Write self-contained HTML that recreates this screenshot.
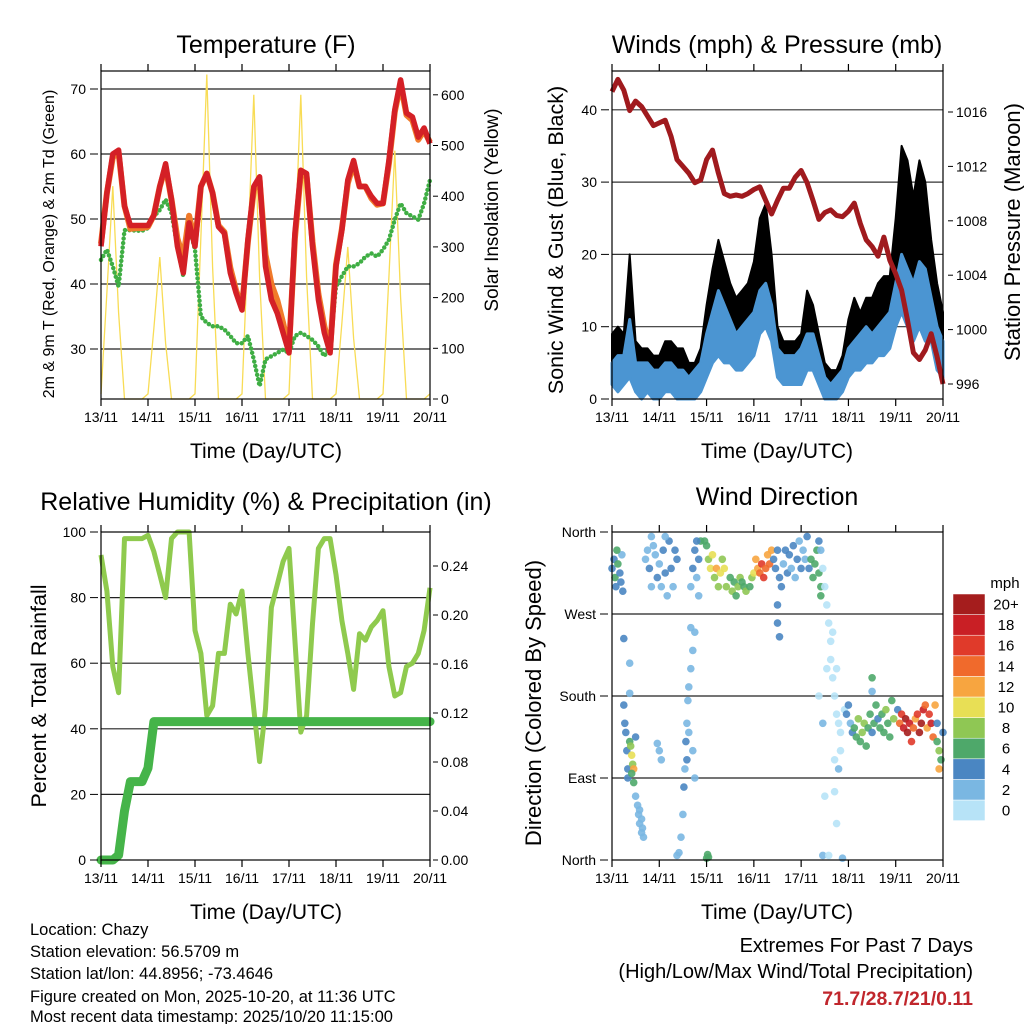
<!DOCTYPE html>
<html><head><meta charset="utf-8"><style>
html,body{margin:0;padding:0;background:#fff;}
svg{display:block;font-family:"Liberation Sans",sans-serif;}
</style></head><body>
<svg id="svg" width="1024" height="1024" viewBox="0 0 1024 1024" xmlns="http://www.w3.org/2000/svg">
<g id="grid"></g>
<g id="marks"></g>
<g id="frames"></g>
<g id="labels" font-size="14" fill="#000"></g>
<g id="text">
<text x="266" y="53" font-size="25" text-anchor="middle">Temperature (F)</text>
<text x="777" y="53" font-size="25" text-anchor="middle">Winds (mph) &amp; Pressure (mb)</text>
<text x="266" y="510" font-size="25" text-anchor="middle">Relative Humidity (%) &amp; Precipitation (in)</text>
<text x="777" y="505" font-size="25" text-anchor="middle">Wind Direction</text>
<text x="266" y="458" font-size="21" text-anchor="middle">Time (Day/UTC)</text>
<text x="777" y="458" font-size="21" text-anchor="middle">Time (Day/UTC)</text>
<text x="266" y="919" font-size="21" text-anchor="middle">Time (Day/UTC)</text>
<text x="777" y="919" font-size="21" text-anchor="middle">Time (Day/UTC)</text>
<text transform="translate(54,244) rotate(-90)" font-size="16" text-anchor="middle">2m &amp; 9m T (Red, Orange) &amp; 2m Td (Green)</text>
<text transform="translate(498,210) rotate(-90)" font-size="19" text-anchor="middle">Solar Insolation (Yellow)</text>
<text transform="translate(563,240) rotate(-90)" font-size="21.5" text-anchor="middle">Sonic Wind &amp; Gust (Blue, Black)</text>
<text transform="translate(1020,232) rotate(-90)" font-size="22" text-anchor="middle">Station Pressure (Maroon)</text>
<text transform="translate(46,696) rotate(-90)" font-size="21.5" text-anchor="middle">Percent &amp; Total Rainfall</text>
<text transform="translate(541,703) rotate(-90)" font-size="22" text-anchor="middle">Direction (Colored By Speed)</text>
<g font-size="16.5">
<text x="30" y="935">Location: Chazy</text>
<text x="30" y="957">Station elevation: 56.5709 m</text>
<text x="30" y="979">Station lat/lon: 44.8956; -73.4646</text>
<text x="30" y="1002">Figure created on Mon, 2025-10-20, at 11:36 UTC</text>
<text x="30" y="1022">Most recent data timestamp: 2025/10/20 11:15:00</text>
</g>
<g font-size="20" text-anchor="end">
<text x="973" y="952">Extremes For Past 7 Days</text>
<text x="973" y="978">(High/Low/Max Wind/Total Precipitation)</text>
<text x="973" y="1005" font-size="19.5" fill="#c0262c" font-weight="bold">71.7/28.7/21/0.11</text>
</g>
<text x="1005" y="588" font-size="15" text-anchor="middle">mph</text>
</g>
</svg>
<script>
// ---- data (3-hourly, hours since 13/11 00 UTC) ----
const dayLabels=["13/11","14/11","15/11","16/11","17/11","18/11","19/11","20/11"];
const temp2m=[45.8,54,60,60.6,52,49,49,49,49,50.6,55,58.5,53,45.8,41.7,49.4,45.8,55,57,54,48.8,47.8,41.7,38.6,36,46.8,55,56.5,42.7,37.6,35.5,32.5,29.4,47.8,57.5,57,45.8,37.6,32.5,29.4,42.7,48.3,56,59,55,55,53.5,52.4,52.4,59,66.8,71.4,66.3,65.7,62.6,64,61.6];
const temp9m=[46.2,54,59.5,60.2,52,48.5,48.6,48.6,48.8,50.6,55,58,53,47,44,50.5,46.5,55,57,54,49,48,42.5,39,36.5,46.5,54.5,56,44.5,40,37.5,34,30,47,57,56.5,46.5,38.5,33.5,30,43,48.5,55.5,58.5,55,55,53.2,52.2,52.4,58.5,66.5,70.8,66,65.2,62.2,63.6,61.8];
const dewpt=[43.7,45.3,42.7,39.6,48.3,48.3,48.2,48.2,48.6,50.4,51.4,53,50.9,45.8,41.2,48.8,45.3,35,34,33.5,33.5,33,32,30.9,30.9,32,28.4,24.3,28.4,28.9,29.4,29.9,29.4,32,32.5,32,31.4,30.4,28.9,30.4,39.6,41.2,42.7,42.7,43.2,44.2,44.7,44.2,45.3,46.8,49.9,52.4,50.9,50.4,49.9,52.4,56];
const solar=[10,210,420,170,0,0,0,0, 10,140,280,110,0,0,0,0, 10,320,640,260,0,0,0,0, 10,300,600,240,0,0,0,0, 10,300,600,240,0,0,0,0, 10,150,300,120,0,0,0,0, 10,240,490,200,0,0,0,0, 10];
const pressure=[1017.5,1018.4,1017.6,1016.1,1016.8,1016.4,1015.7,1015,1015.2,1015.4,1014.2,1012.5,1012,1011.5,1010.8,1011,1012.5,1013.2,1011.5,1010,1009.8,1009.9,1009.8,1010,1010.3,1010.5,1009.5,1008.5,1009.5,1010.4,1010.4,1011.2,1011.7,1010.8,1009.5,1008.1,1008.6,1008.8,1008.4,1008.3,1008.7,1009.3,1007.8,1006.6,1006.1,1005.4,1006.8,1005.1,1004.1,1002.9,1000.7,998.3,997.8,998.5,999.7,998,996];
const windMin=[2,1,2,3,1,0,1,0,0,1,1,0,0,0,0,1,3,5,6,5,5,4,4,5,6,9,10,8,3,2,2,2,2,4,4,2,0,0,0,1,3,4,4,5,5,6,6,7,10,12,10,8,10,8,8,4,3];
const windMax=[5,6,6,11,5,5,5,4,4,5,5,4,4,3,4,5,9,12,15,13,11,9,10,11,12,15,16,13,7,6,6,6,7,9,9,6,3,2,3,4,7,8,9,10,9,10,11,12,16,20,18,16,19,18,14,10,8];
const gust=[9,10,9,20,8,7,7,6,6,8,8,7,7,5,5,7,13,18,22,19,16,14,15,16,19,25,27,20,10,8,8,8,9,15,13,9,5,4,4,6,11,14,12,14,14,16,17,17,25,35,33,28,33,30,22,16,12];
const rh=[93,82,59,51,98,98,98,98,99,94,87,80,98,100,100,100,70,63,44,47,63,63,78,75,82,63,46,30,46,77,84,91,95,67,39,44,72,95,98,98,87,73,63,52,69,67,71,73,76,59,50,51,59,60,63,70,83];
const precip=[0,0,0,0.004,0.04,0.064,0.064,0.064,0.075,0.113,0.113,0.113,0.113,0.113,0.113,0.113,0.113,0.113,0.113,0.113,0.113,0.113,0.113,0.113,0.113,0.113,0.113,0.113,0.113,0.113,0.113,0.113,0.113,0.113,0.113,0.113,0.113,0.113,0.113,0.113,0.113,0.113,0.113,0.113,0.113,0.113,0.113,0.113,0.113,0.113,0.113,0.113,0.113,0.113,0.113,0.113,0.113];
// wind direction observations: hour, direction (deg), speed (mph)
const dirHour=[0,1,1.5,2,3,4,5,5.5,2.5,4.5,6,9,9,6,6.5,7,7.5,8,8,9,9.5,10,10.5,11,10,11,12,12,13,13.5,14,15,15.5,16,15,14,17,18,19,20,21,22,23,24,25,26,27,28,29,30,31,32,33,27,20,24,25,23,33,34,35,36,36.5,37,37.5,38,38.5,39,40,41,42,40,39,38,41,42,40,41,42,43,44,45,44,43,48,49,48.5,47,48,49,50,51,52,53,54,55,56,57,58,60,61,62,63,64,65,66,67,68,70,71,72,73,74,75,76,77,78,79,80,81,82,83,84,85,86,87,88,89,90,91,92,93,94,95,96,97,98,99,84,84,85,100,101,102,103,104,105,106,106,105,106,107,108,109,110,111,111,112,113,114,115,116,115,116,109,112,113,107,108,113,114,105,114,107,117,110,118,119,120,121,122,123,124,125,126,127,128,129,130,131,132,133,134,135,136,137,138,139,140,141,142,143,132,132,145,146,147,148,149,150,151,152,153,154,155,156,157,158,159,160,161,162,163,164,165,166,167,168,166,165];
const dirDeg=[320,330,310,300,325,315,335,295,340,305,243,216,183,170,150,140,120,100,90,130,125,115,105,100,95,85,135,70,60,50,40,30,35,25,45,55,330,340,320,300,345,335,310,325,300,340,315,290,350,320,300,340,330,355,355,120,110,128,5,8,25,50,80,100,130,150,175,190,210,230,250,255,140,110,120,90,300,320,340,310,330,350,290,350,2,3,6,350,345,330,320,335,310,320,300,315,330,320,300,310,295,305,290,300,310,305,300,295,300,310,315,330,320,315,325,310,320,335,325,340,330,320,340,310,300,325,340,315,335,320,345,310,330,350,320,340,330,355,280,260,245,320,330,310,325,340,315,300,290,350,340,320,300,280,260,240,220,200,180,160,150,140,100,120,210,250,110,150,70,75,40,180,210,5,2,5,165,160,170,150,140,145,135,155,130,140,150,125,145,160,140,150,170,155,145,160,140,165,150,135,175,155,200,185,165,150,160,145,155,140,150,130,145,155,160,140,150,165,170,145,160,150,135,170,130,120,110,140,100,150];
const dirSpeed=[4,5,6,4,6,5,3,4,7,4,4,3,2,4,4,4,5,4,4,6,8,10,9,12,6,6,5,2,2,2,2,2,3,2,2,2,2,3,4,2,2,3,4,3,3,4,4,2,4,4,3,4,4,3,2,2,2,2,3,3,2,3,4,3,4,3,3,2,2,3,2,2,2,4,2,2,2,4,4,3,5,6,3,4,6,6,6,6,6,8,10,10,9,12,9,10,8,11,8,7,8,6,7,9,8,7,7,8,7,9,10,12,13,15,16,17,15,13,14,12,5,4,4,5,4,3,4,4,4,3,4,3,4,3,4,3,3,4,4,4,4,4,6,7,7,6,6,7,6,5,2,1,1,1,1,1,1,1,1,1,1,1,2,1,1,1,1,3,1,1,1,1,1,2,3,1,1,4,4,3,5,6,7,8,6,8,9,6,7,6,4,7,6,4,7,6,7,8,7,6,7,8,7,3,4,14,16,18,20,20,18,16,14,12,17,20,20,18,15,12,16,18,14,12,6,8,6,4,12,5,7];
const speedColors=["#b7e3f7","#7ab7e2","#4a86c2","#4ea86a","#8fc754","#e8df55","#f7a540","#f06a2c","#e03a2a","#c91f25","#a51d1d"];
const speedTicks=["0","2","4","6","8","10","12","14","16","18","20+"];

const NS="http://www.w3.org/2000/svg";
const G=id=>document.getElementById(id);
function mk(parent,tag,attrs){const e=document.createElementNS(NS,tag);for(const k in attrs)e.setAttribute(k,attrs[k]);G(parent).appendChild(e);return e;}
const hours=temp2m.map((_,i)=>i*3);
// axis functions
const xL=t=>101+t/168*329, xR=t=>612+t/168*331;
const yT=v=>349-(v-30)*6.5, yS=v=>399-v*0.507;
const yW=v=>399-v*7.23, yP=p=>384-(p-996)*13.6;
const yR=v=>860-v*3.28, yPr=p=>860-p*1225;
const yD=d=>860-d/360*328;
const pts=(xf,yf,arr)=>arr.map((v,i)=>xf(hours[i]).toFixed(1)+","+yf(v).toFixed(1)).join(" ");

// frames + grids
const boxes=[[101,71,430,399,"temp"],[612,71,943,399,"winds"],[101,532,430,860,"rh"],[612,532,943,860,"dir"]];
boxes.forEach(b=>{
  const f=mk("frames","rect",{x:b[0],y:b[1],width:b[2]-b[0],height:b[3]-b[1],fill:"none",stroke:"#000","stroke-width":1.2});
  
  
  const xf=b[0]===101?xL:xR;
  dayLabels.forEach((lab,i)=>{
    const x=xf(i*24);
    const tk=mk("frames","path",{d:`M${x},${b[1]-7}V${b[1]}M${x},${b[3]}V${b[3]+7}`,stroke:"#000","stroke-width":1.2});
    
    
    const tl=mk("labels","text",{x:x,y:b[3]+23,"text-anchor":"middle"});
    tl.textContent=lab;
    
    
  });
});
function hgrid(x0,x1,y,col){const l=mk("grid","line",{x1:x0,x2:x1,y1:y,y2:y,stroke:col,"stroke-width":1.2});
  
  }
function ylab(x,y,txt,anchor){const t=mk("labels","text",{x:x,y:y+5,"text-anchor":anchor});t.textContent=txt;
  
  
  const tk=mk("frames","line",{x1:anchor==="end"?x+4:x-8,x2:anchor==="end"?x+12:x-3,y1:y,y2:y,stroke:"#000","stroke-width":1});
  
  }
[30,40,50,60,70].forEach(v=>{hgrid(101,430,yT(v),"#222");ylab(86,yT(v),String(v),"end");});
[0,100,200,300,400,500,600].forEach(v=>ylab(441,yS(v),String(v),"start"));
[10,20,30,40].forEach(v=>hgrid(612,943,yW(v),"#333"));
[0,10,20,30,40].forEach(v=>ylab(597,yW(v),String(v),"end"));
[996,1000,1004,1008,1012,1016].forEach(v=>ylab(956,yP(v),String(v),"start"));
[20,40,60,80].forEach(v=>hgrid(101,430,yR(v),"#222"));
[0,20,40,60,80,100].forEach(v=>ylab(86,yR(v),String(v),"end"));
[0,0.04,0.08,0.12,0.16,0.20,0.24].forEach(v=>ylab(441,yPr(v),v.toFixed(2),"start"));
[90,180,270].forEach(v=>hgrid(612,943,yD(v),"#222"));
["North","East","South","West","North"].forEach((n,i)=>ylab(596,yD(i*90),n,"end"));

// temperature panel
let e;
e=mk("marks","polyline",{points:pts(xL,yS,solar),fill:"none",stroke:"#f8dc55","stroke-width":1.3});


e=mk("marks","polyline",{points:pts(xL,yT,dewpt),fill:"none",stroke:"#3fae44","stroke-width":4.5,"stroke-dasharray":"0 4.5","stroke-linecap":"round"});


e=mk("marks","polyline",{points:pts(xL,yT,temp9m),fill:"none",stroke:"#f07a2a","stroke-width":6,"stroke-linejoin":"round"});


e=mk("marks","polyline",{points:pts(xL,yT,temp2m),fill:"none",stroke:"#d42026","stroke-width":5.5,"stroke-linejoin":"round"});



// winds panel
function band(lo,hi){const a=hi.map((v,i)=>xR(hours[i]).toFixed(1)+","+yW(v).toFixed(1));
  const b=lo.map((v,i)=>xR(hours[i]).toFixed(1)+","+yW(v).toFixed(1)).reverse();return a.concat(b).join(" ");}
e=mk("marks","polygon",{points:band(windMin,gust),fill:"#000",stroke:"#000","stroke-width":2,"stroke-linejoin":"round"});


e=mk("marks","polygon",{points:band(windMin,windMax),fill:"#4b95d2",stroke:"#4b95d2","stroke-width":3,"stroke-linejoin":"round"});


e=mk("marks","polyline",{points:pts(xR,yP,pressure),fill:"none",stroke:"#a01a1e","stroke-width":5,"stroke-linejoin":"round"});



// RH panel
e=mk("marks","polyline",{points:pts(xL,yR,rh),fill:"none",stroke:"#8fca4e","stroke-width":5,"stroke-linejoin":"round"});


e=mk("marks","polyline",{points:pts(xL,yPr,precip),fill:"none",stroke:"#45b449","stroke-width":9,"stroke-linejoin":"round","stroke-linecap":"round"});



// wind direction scatter
dirHour.forEach((h,i)=>{
  const c=speedColors[Math.min(10,Math.floor(dirSpeed[i]/2))];
  const p=mk("marks","circle",{cx:xR(h).toFixed(1),cy:yD(dirDeg[i]).toFixed(1),r:3.8,fill:c,"fill-opacity":0.9});
  
  
});
// colorbar
speedColors.forEach((c,i)=>{
  const y=800-i*20.6;
  const r=mk("marks","rect",{x:953,y:y,width:32,height:20.6,fill:c,stroke:"#fff","stroke-width":0.5});
  
  
  const t=mk("labels","text",{x:1006,y:y+15.5,"text-anchor":"middle","font-size":15});
  t.textContent=speedTicks[i];
  
  
});
</script>
</body></html>
